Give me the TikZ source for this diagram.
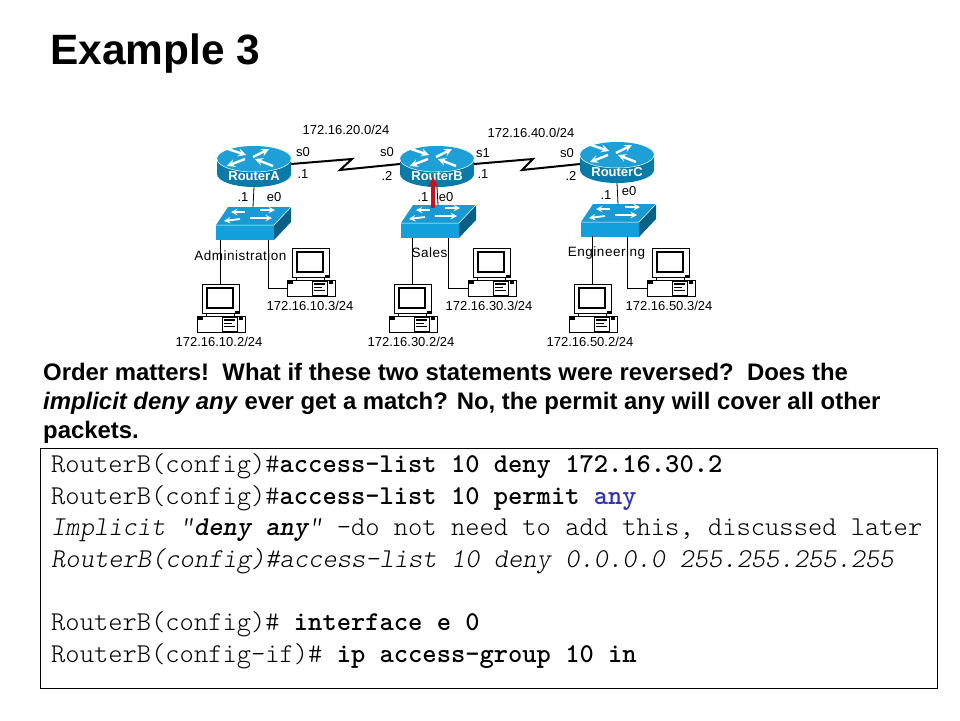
\documentclass[tikz,border=0pt]{standalone}
\usepackage{fontspec}
\setmainfont{Liberation Sans}
\usetikzlibrary{positioning}

\definecolor{routertop}{HTML}{1E9FD6}
\definecolor{routerside}{HTML}{0A7BA8}
\definecolor{switchtop}{HTML}{1A9AD2}
\definecolor{switchfront}{HTML}{12A0DC}
\definecolor{switchside}{HTML}{0A5F85}
\definecolor{anyblue}{HTML}{3333B5}
\definecolor{uparrow}{HTML}{CC0F1E}

\tikzset{
  small/.style={font=\fontsize{13}{14}\selectfont,inner sep=0pt},
  lanname/.style={font=\fontsize{13.5}{14}\selectfont\addfontfeatures{LetterSpace=3.7},inner sep=0pt},
  bodyline/.style={anchor=base west,inner sep=0pt,font=\fontsize{23.9}{25}\selectfont\bfseries},
  codeline/.style={anchor=base west,inner sep=0pt,font=\fontsize{27.2}{28}\selectfont\ttfamily\fontseries{l}\selectfont},
  wire/.style={line width=0.8pt},
  serial/.style={line width=2pt},
  routershape/.pic={
    \fill[routerside] (0,13) -- (0,28) arc[start angle=180,end angle=360,x radius=37pt,y radius=13pt] -- (74,13) -- cycle;
    \fill[routertop] (37,13) ellipse[x radius=37pt,y radius=13pt];
    \draw[white,line width=0.5pt] (0,13) arc[start angle=180,end angle=360,x radius=37pt,y radius=13pt];
    \draw[white,->,line width=2.4pt] (11,3) -- (29,9);
    \draw[white,->,line width=2.4pt] (36,11) -- (52,3);
    \draw[white,->,line width=2.4pt] (28,13) -- (10,20);
    \draw[white,->,line width=2.4pt] (56,20) -- (38,13);
    \node[white,inner sep=0pt,font=\fontsize{13}{14}\selectfont\bfseries] (-label) at (37,30) {#1};
    \coordinate (-east) at (74,18);
    \coordinate (-west) at (0,18);
    \coordinate (-south) at (37,41);
  },
  switchshape/.pic={
    \fill[switchtop] (0,18) -- (12,0) -- (75,0) -- (58,18) -- cycle;
    \fill[switchfront] (0,18) rectangle (58,33);
    \fill[switchside] (58,18) -- (75,0) -- (75,15) -- (58,33) -- cycle;
    \draw[white,line width=0.5pt] (0,18) -- (58,18) -- (75,0);
    \draw[white,->,line width=1.8pt] (29,5) -- (15,5);
    \draw[white,->,line width=1.8pt] (44,3) -- (59,3);
    \draw[white,->,line width=1.8pt] (24,12) -- (8,14);
    \draw[white,->,line width=1.8pt] (34,11) -- (56,11);
    \coordinate (-north) at (37,0);
  },
  pcshape/.pic={
    \draw[line width=0.8pt,fill=white] (0,0) rectangle (37,29);
    \draw[line width=1.8pt] (5,4) rectangle (31,24);
    \fill (33,27) rectangle (37,30);
    \draw[line width=0.8pt] (4,29) -- (4,32) (32,29) -- (32,32);
    \draw[line width=0.8pt,fill=white] (-5,32) rectangle (43,48);
    \fill (-4,33) rectangle (1,36);
    \fill (37,33) rectangle (41,36);
    \draw[line width=0.6pt] (20,33) rectangle (35,47);
    \fill (22,35) rectangle (33,37);
    \fill (22,39) rectangle (30,40);
    \fill (22,42) rectangle (33,43);
    \coordinate (-top) at (18,0);
    \coordinate (-west) at (-5,40);
  }
}
\newcommand{\cmdtext}[1]{{\fontseries{b}\selectfont #1}}

\begin{document}
\begin{tikzpicture}[x=1pt,y=-1pt,>=stealth]
  \useasboundingbox (0,0) rectangle (960,720);
  \fill[white] (0,0) rectangle (960,720);
  \node[anchor=base west,inner sep=0pt,font=\fontsize{42.4}{44}\selectfont\bfseries] (title) at (50,64) {Example 3};

  % routers and switches
  \pic (routerA) at (217,146) {routershape=RouterA};
  \pic (routerB) at (400,146) {routershape=RouterB};
  \pic (routerC) at (580,142) {routershape=RouterC};
  \pic (switchA) at (216,207) {switchshape};
  \pic (switchB) at (401,205) {switchshape};
  \pic (switchC) at (581,204) {switchshape};

  % hosts
  \pic (pcA) at (202,284) {pcshape};
  \pic (pcB) at (292,248) {pcshape};
  \pic (pcC) at (394,284) {pcshape};
  \pic (pcD) at (473,248) {pcshape};
  \pic (pcE) at (574,284) {pcshape};
  \pic (pcF) at (652,248) {pcshape};

  % serial links
  \coordinate (zigA) at (352,159);
  \coordinate (zagA) at (340,170);
  \coordinate (zigB) at (533,159);
  \coordinate (zagB) at (522,170);
  \draw[serial] (routerA-east) -- (zigA) -- (zagA) -- (routerB-west);
  \draw[serial] (routerB-east) -- (zigB) -- (zagB) -- ([yshift=-4pt]routerC-west);

  % network labels
  \node[small] (netAB) at (346,130) {172.16.20.0/24};
  \node[small] (netBC) at (531,133) {172.16.40.0/24};
  \node[small] (ifA) at (303,152) {s0};
  \node[small] (addrA) at (303,174) {.1};
  \node[small] (ifB) at (387,152) {s0};
  \node[small] (addrB) at (387,176) {.2};
  \node[small] (ifC) at (483,153) {s1};
  \node[small] (addrC) at (483,174) {.1};
  \node[small] (ifD) at (567,153) {s0};
  \node[small] (addrD) at (571,176) {.2};
  \node[small] (lanAaddr) at (243,197) {.1};
  \node[small] (lanAif) at (274,197) {e0};
  \node[small] (lanBaddr) at (423,197) {.1};
  \node[small] (lanBif) at (446,197) {e0};
  \node[small] (lanCaddr) at (606,195) {.1};
  \node[small] (lanCif) at (629,191) {e0};
  \node[lanname] (admin) at (240.5,256) {Administration};
  \node[lanname] (sales) at (429.5,253) {Sales};
  \node[lanname] (eng) at (606.5,253) {Engineering};
  \node[small] (hostA) at (219,342) {172.16.10.2/24};
  \node[small] (hostB) at (310,306) {172.16.10.3/24};
  \node[small] (hostC) at (411,342) {172.16.30.2/24};
  \node[small] (hostD) at (489,306) {172.16.30.3/24};
  \node[small] (hostE) at (590,342) {172.16.50.2/24};
  \node[small] (hostF) at (669,306) {172.16.50.3/24};

  % LAN wires
  \draw[wire] (routerA-south) -- (switchA-north);
  \draw[wire] (routerB-south) -- (switchB-north);
  \draw[wire] (routerC-south) -- (switchC-north);
  \coordinate (legA) at (268,240);
  \coordinate (legB) at (448,238);
  \coordinate (legC) at (627,236);
  \draw[wire] (pcA-top) -- (pcA-top |- legA);
  \draw[wire] (legA) |- (pcB-west);
  \draw[wire] (pcC-top) -- (pcC-top |- legB);
  \draw[wire] (legB) |- (pcD-west);
  \draw[wire] (pcE-top) -- (pcE-top |- legC);
  \draw[wire] (legC) |- (pcF-west);

  % red arrow
  \coordinate (arrowStart) at (433,208);
  \coordinate (arrowEnd) at (433,177);
  \draw[->,uparrow,line width=3.4pt] (arrowStart) -- (arrowEnd);

  % text
  \node[bodyline] (noteA) at (43,380) {Order matters!\ \ What if these two statements were reversed?\ \ Does the};
  \node[bodyline] (noteB) at (43,409) {\textit{implicit deny any} ever get a match? No, the permit any will cover all other};
  \node[bodyline] (noteC) at (43,438) {packets.};

  \node[draw,line width=0.8pt,minimum width=897pt,minimum height=240pt,inner sep=0pt] (codebox) at (488.5,568) {};
  \node[codeline] (codeA) at (51,472) {RouterB(config)\#\cmdtext{access-list 10 deny 172.16.30.2}};
  \node[codeline] (codeB) at (51,504) {RouterB(config)\#\cmdtext{access-list 10 permit \textcolor{anyblue}{any}}};
  \node[codeline] (codeC) at (51,535) {\textit{Implicit “\cmdtext{deny any}”} -do not need to add this, discussed later};
  \node[codeline] (codeD) at (51,567) {\textit{RouterB(config)\#access-list 10 deny 0.0.0.0 255.255.255.255}};
  \node[codeline] (codeE) at (51,630) {RouterB(config)\# \cmdtext{interface e 0}};
  \node[codeline] (codeF) at (51,662) {RouterB(config-if)\# \cmdtext{ip access-group 10 in}};
\end{tikzpicture}
\end{document}
